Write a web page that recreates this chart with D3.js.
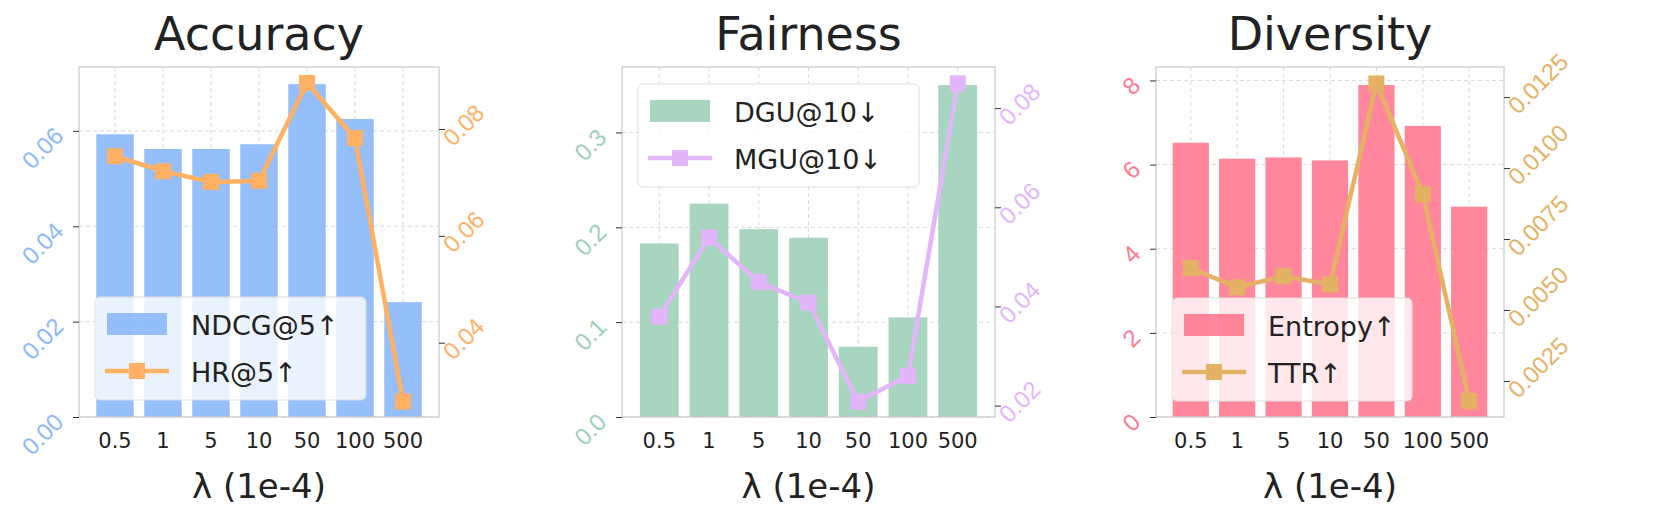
<!DOCTYPE html>
<html><head><meta charset="utf-8">
<script src="https://cdn.jsdelivr.net/npm/d3@7.9.0/dist/d3.min.js"></script>
<style>body{margin:0;background:#fff}svg{font-family:"DejaVu Sans",sans-serif}</style>
</head><body><svg id="c" width="1661" height="521"></svg>
<script>
const lambdas = ["0.5", "1", "5", "10", "50", "100", "500"];

const ndcg = [0.0593, 0.0562, 0.0562, 0.0572, 0.0698, 0.0625, 0.0241];
const hr = [0.0749, 0.0721, 0.0701, 0.0703, 0.0886, 0.0783, 0.0290];
const dgu = [0.183, 0.225, 0.198, 0.189, 0.074, 0.105, 0.350];
const mgu = [0.0379, 0.0539, 0.0449, 0.0408, 0.0208, 0.0260, 0.0850];
const entropy = [6.52, 6.14, 6.17, 6.10, 7.89, 6.92, 5.00];
const ttr = [0.00647, 0.00580, 0.00619, 0.00590, 0.01298, 0.00908, 0.00180];

const panels = [
  { title: "Accuracy", x0: 79, x1: 439, bars: ndcg, line: hr, barName: "NDCG@5↑", lineName: "HR@5↑",
    barColor: "#8ab8fb", lineColor: "#ffb062", leftDom: [0, 0.0734], leftTicks: [0, 0.02, 0.04, 0.06], leftFmt: ".2f",
    rightDom: [0.0261, 0.0916], rightTicks: [0.04, 0.06, 0.08], rightFmt: ".2f", legend: [95, 297, 271, 103] },
  { title: "Fairness", x0: 622, x1: 995, bars: dgu, line: mgu, barName: "DGU@10↓", lineName: "MGU@10↓",
    barColor: "#9dd0b8", lineColor: "#e3b5fb", leftDom: [0, 0.369], leftTicks: [0, 0.1, 0.2, 0.3], leftFmt: ".1f",
    rightDom: [0.0177, 0.0883], rightTicks: [0.02, 0.04, 0.06, 0.08], rightFmt: ".2f", legend: [638, 84, 281, 103] },
  { title: "Diversity", x0: 1156, x1: 1504, bars: entropy, line: ttr, barName: "Entropy↑", lineName: "TTR↑",
    barColor: "#ff7990", lineColor: "#e4b264", leftDom: [0, 8.32], leftTicks: [0, 2, 4, 6, 8], leftFmt: "d",
    rightDom: [0.00123, 0.01356], rightTicks: [0.0025, 0.005, 0.0075, 0.01, 0.0125], rightFmt: ".4f", legend: [1172, 298, 240, 103] },
];

const svg = d3.select("#c");
const plotTop = 67, plotBottom = 417;

panels.forEach((p) => {
  const g = svg.append("g");
  const x = d3.scaleLinear().domain([-0.75, 6.75]).range([p.x0, p.x1]);
  const yl = d3.scaleLinear().domain(p.leftDom).range([plotBottom, plotTop]);
  const yr = d3.scaleLinear().domain(p.rightDom).range([plotBottom, plotTop]);
  const step = x(1) - x(0);

  // grid
  g.selectAll(".gx").data(lambdas).join("line")
    .attr("x1", (d, i) => x(i)).attr("x2", (d, i) => x(i)).attr("y1", plotTop).attr("y2", plotBottom)
    .attr("stroke", "#d9d9d9").attr("stroke-dasharray", "4,3");
  g.selectAll(".gy").data(p.leftTicks).join("line")
    .attr("x1", p.x0).attr("x2", p.x1).attr("y1", yl).attr("y2", yl)
    .attr("stroke", "#d9d9d9").attr("stroke-dasharray", "4,3");

  // bars
  g.selectAll(".bar").data(p.bars).join("rect")
    .attr("x", (d, i) => x(i) - step * 0.39).attr("width", step * 0.78)
    .attr("y", (d) => yl(d)).attr("height", (d) => plotBottom - yl(d))
    .attr("fill", p.barColor).attr("opacity", 0.9);

  // line
  g.append("path").datum(p.line)
    .attr("d", d3.line().x((d, i) => x(i)).y((d) => yr(d)))
    .attr("fill", "none").attr("stroke", p.lineColor).attr("stroke-width", 4.5);
  g.selectAll(".mk").data(p.line).join("rect")
    .attr("x", (d, i) => x(i) - 8).attr("y", (d) => yr(d) - 8)
    .attr("width", 16).attr("height", 16).attr("fill", p.lineColor);

  // frame
  g.append("rect").attr("x", p.x0).attr("y", plotTop).attr("width", p.x1 - p.x0).attr("height", plotBottom - plotTop)
    .attr("fill", "none").attr("stroke", "#cccccc").attr("stroke-width", 1.3);

  // left axis
  const la = g.append("g").attr("transform", `translate(${p.x0},0)`)
    .call(d3.axisLeft(yl).tickValues(p.leftTicks).tickSize(6).tickFormat(d3.format(p.leftFmt)));
  la.select(".domain").remove();
  la.selectAll("line").attr("stroke", "#333");
  la.selectAll("text").attr("fill", p.barColor).attr("font-size", 24)
    .attr("x", null).attr("dy", null).attr("text-anchor", "end")
    .attr("transform", "translate(-14,6) rotate(-45)");

  // right axis
  const ra = g.append("g").attr("transform", `translate(${p.x1},0)`)
    .call(d3.axisRight(yr).tickValues(p.rightTicks).tickSize(6).tickFormat(d3.format(p.rightFmt)));
  ra.select(".domain").remove();
  ra.selectAll("line").attr("stroke", "#333");
  ra.selectAll("text").attr("fill", p.lineColor).attr("font-size", 24)
    .attr("x", null).attr("dy", null).attr("text-anchor", "start")
    .attr("transform", "translate(14,18) rotate(-45)");

  // x labels
  g.selectAll(".xl").data(lambdas).join("text")
    .attr("x", (d, i) => x(i)).attr("y", 448).attr("text-anchor", "middle")
    .attr("font-size", 21).attr("fill", "#222").text((d) => d);
  g.append("text").attr("x", (p.x0 + p.x1) / 2).attr("y", 498).attr("text-anchor", "middle")
    .attr("font-size", 34).attr("fill", "#222").text("λ (1e-4)");
  g.append("text").attr("x", (p.x0 + p.x1) / 2).attr("y", 50).attr("text-anchor", "middle")
    .attr("font-size", 46).attr("fill", "#222").text(p.title);

  // legend
  const [lx, ly, lw, lh] = p.legend;
  const lg = g.append("g").attr("transform", `translate(${lx},${ly})`);
  lg.append("rect").attr("width", lw).attr("height", lh).attr("rx", 5)
    .attr("fill", "rgba(255,255,255,0.8)").attr("stroke", "#dddddd");
  lg.append("rect").attr("x", 12).attr("y", 16).attr("width", 60).attr("height", 22)
    .attr("fill", p.barColor).attr("opacity", 0.9);
  lg.append("line").attr("x1", 10).attr("x2", 74).attr("y1", 74).attr("y2", 74)
    .attr("stroke", p.lineColor).attr("stroke-width", 4.5);
  lg.append("rect").attr("x", 34).attr("y", 66).attr("width", 16).attr("height", 16).attr("fill", p.lineColor);
  lg.append("text").attr("x", 96).attr("y", 38).attr("font-size", 27).attr("fill", "#222").text(p.barName);
  lg.append("text").attr("x", 96).attr("y", 85).attr("font-size", 27).attr("fill", "#222").text(p.lineName);
});
</script></body></html>
